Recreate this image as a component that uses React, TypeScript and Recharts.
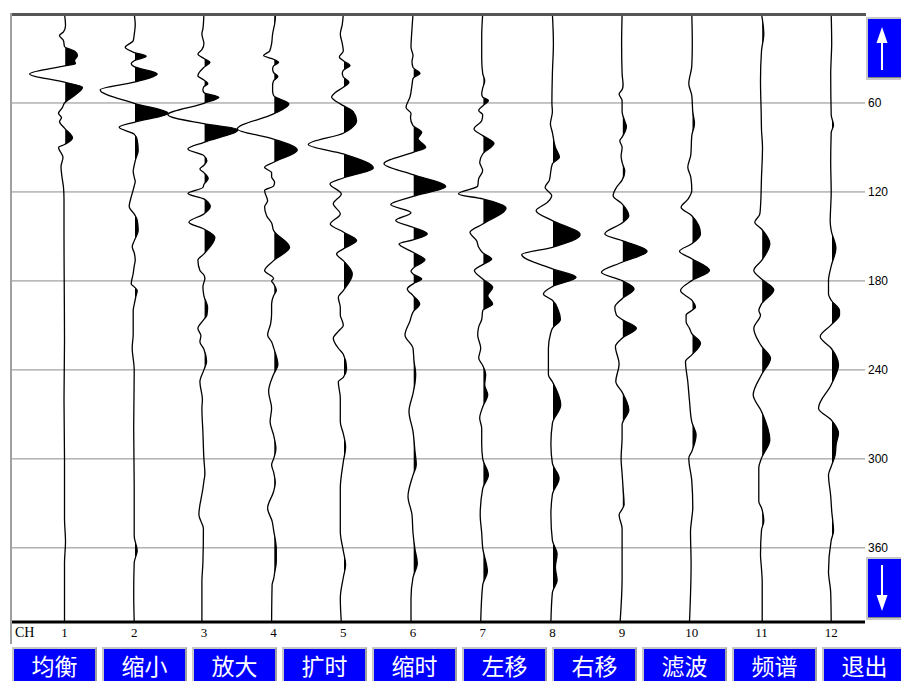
import React from "react";
import { ComposedChart, Line, Area, XAxis, YAxis, CartesianGrid } from "recharts";

const channels = [1, 2, 3, 4, 5, 6, 7, 8, 9, 10, 11, 12];
const timeTicks = [60, 120, 180, 240, 300, 360];
const buttonLabels = ["均衡", "缩小", "放大", "扩时", "缩时", "左移", "右移", "滤波", "频谱", "退出"];

// [time ms, amplitude] per channel, amplitude in 1/70 of the trace spacing
const ch1 = [[0,0],[8,1],[12,-1],[14.5,-5],[18,-1],[22,0],[25,10],[28,13],[31.5,10],[33.5,11],[35,0],[40.4,-35],[46,0],[49.4,18],[55,10],[60,0],[63,-2],[67,-6],[70,-3],[72.5,-5],[77,0],[83.6,8],[88,0],[90,-6],[96.6,-1.5],[103,-3.5],[110,-2.5],[117,-1],[125,-0.5],[150,-0.5],[180,-0.3],[220,0],[260,-0.5],[300,0],[340,0],[356,1],[370,0],[410,0]];
const ch2 = [[0,0],[7,1],[14,0],[18,-1],[22.5,-9],[26,0],[28.5,12],[31.5,0],[33.5,-3],[35.5,0],[40.4,23],[46,0],[51.2,-34],[60.2,0],[67,34],[73,0],[76.4,-15],[81,0],[85,3],[92,4],[99,1],[102,0],[106,-1],[110,0],[113,1],[116,0],[121,-2],[130,-5],[134.8,0],[139,3],[146,4],[153,0],[157,-2],[161,0],[166,1],[170,0],[175,-1],[182,-3],[184,0],[186.5,3],[191,1.5],[196,0],[200,-1],[216,-1],[225,-2],[240,0],[280,-0.5],[320,0],[352,0],[362,3],[370,0],[390,-0.5],[410,0]];
const ch3 = [[0,0],[10,-1],[13.5,-2],[20,0],[24,-2],[27,-6],[30,0],[32.6,6],[36,0],[41.6,-6],[44.5,0],[47,4],[49,0],[51,-1],[53,0],[56.2,15],[60.2,0],[67.9,-36],[74,0],[78,34],[86.5,0],[91,-16],[95.5,0],[99,3],[102,0],[104.5,-4],[107,0],[111,4.3],[115,0],[117,-1],[121,-16],[124.7,0],[130,6.3],[134.8,0],[140.4,-15],[145,0],[150.6,11],[161.8,0],[166,-6],[173,-4],[176,0],[178.6,1],[181,0],[184,-1],[190,0],[198,3.7],[203,3],[206,0],[212,-6],[217,-3],[221,-4],[226,0],[234.4,2.7],[240,0],[248,-4],[260,-1.5],[266,-2],[282,-1],[300,0],[310,1],[315,0],[320,-1],[337.7,-5],[347,-0.5],[370,-1],[383,-2],[410,-2]];
const ch4 = [[0,2],[7,1],[10,0],[13.5,-1],[20,-2],[25,-4],[28,-10],[30.5,0],[32.6,5],[35,0],[37,-1],[39.5,0],[42.2,4.3],[45,0],[48,-1],[52,-1],[55,0],[60.7,15.3],[67.4,0],[77.5,-36.3],[84.3,0],[91.7,23.7],[100,0],[103.4,-9],[107,-2],[110,-2],[112,0],[113.5,1],[116,0],[119,-9],[126,-6],[130,-9],[136,-7],[141,-2],[146,0],[157.3,16],[166.3,0],[173,-9],[178.4,0],[180,-2],[182,0],[186.5,2.7],[190,0],[195.5,-2],[202,-2],[209,-3],[216.4,-6],[221,-2],[225,0],[236.6,4.3],[243,0],[254.6,-5],[265.8,-2],[275,-3.5],[284,0],[293,2.3],[300,0],[304,-2],[309,0],[316,1.7],[322,0],[333.3,-6],[342,-1.5],[348,0],[361,2.7],[369,2.7],[377,1],[381,0],[385,-1.5],[410,-2]];
const ch5 = [[0,0],[7,-1],[13.5,-3],[20,-1],[25,0],[29,-4],[31.5,0],[34.8,6.7],[38,0],[40,-1],[42.5,0],[46,5.7],[49.4,0],[53,-8],[56,-11.7],[59,-7],[61.8,0],[66,10],[72,13.3],[77,8],[80.4,0],[88,-35],[94.4,0],[103.8,30],[110.6,0],[114.6,-13.3],[121.3,-2],[128,-10],[134.8,-3],[141.6,-13],[147,0],[152.8,13.3],[158.4,0],[161.8,-6.7],[166.3,0],[175.3,9],[186.5,0],[191,-5],[198,-3],[203,-3],[207,-1],[210,0],[214,-5],[218.6,-10],[225.4,-5],[229.5,0],[238.9,3.3],[245,0],[248,-5],[259,-3],[275,-3],[283,0],[292,2.3],[302,0],[320,-3],[349,-3],[362,0],[371.4,2.3],[380,0],[394,-3],[410,-2]];
const ch6 = [[0,0],[10,-1],[22.5,-2],[28,0],[32,-1],[36,0],[40,7],[43.5,0],[48,-1],[56,-3],[63,-7],[67,-2],[70,-2.5],[75.3,0],[79.8,8.7],[84,5],[90,12.7],[93.3,0],[101,-29],[108.3,0],[116.4,32.7],[123,0],[128.5,-22.3],[134,-2],[139.3,-17.3],[143.8,0],[148.3,14.3],[152.3,0],[155,-14],[160.7,0],[165.8,12],[171.5,0],[173.5,-2],[175.3,0],[178.7,8.7],[182,0],[185.4,-5.7],[189.9,0],[195.5,6.7],[201,0],[207,-3],[216.4,-8],[225.4,0],[234,1],[243,2.7],[249,2],[256,0],[268,-4],[281.5,0],[295,2],[304,3.3],[311,0],[325.4,-5],[337.7,-1],[350,0],[361,2],[370.3,4.3],[380,0],[394,-2],[410,-2]];
const ch7 = [[0,0],[15,-1],[30,-1],[40,0],[45,2],[50,0],[54,-1],[56,0],[58.4,5.7],[62,0],[65,-4],[68,0],[72,-1],[77.5,-8.7],[82,0],[87.2,11.3],[94.4,0],[100,-3],[105.6,0],[111,-4],[116,-5],[121.3,-24.3],[124.7,0],[130.8,23.3],[141.6,0],[147.2,-12.7],[153,-6],[157.3,-4],[161,0],[165.2,9],[169,0],[173,-8.3],[178.7,0],[184.3,10],[190,5],[195.5,10],[200,0],[206,-1],[211,-4],[216.4,-5],[225.4,-2],[232,-4],[237,0],[243,3],[250,2],[256.8,5],[265,0],[272.6,-3],[279.3,-1],[290,-1],[300,0],[310.8,5.7],[320,0],[337.7,-2.5],[350,-1],[360,0],[376,4.7],[385,0],[410,-2]];
const ch8 = [[0,0],[20,1],[40,0],[60,-0.5],[66,0],[74,-2],[80,0],[90,3],[96.6,7],[101,0],[108,-2],[112,-3],[116.9,-7.3],[122.5,-0.7],[127,-5],[132.6,-16.3],[139.3,0],[148.8,27.7],[157.3,0],[162.2,-30.7],[171.9,0],[177.5,23.7],[183.8,0],[188.8,-9],[193,0],[200,6],[206,8],[212,0],[216,-2],[225.4,-4],[236,-4],[243.3,-4],[248,0],[263.6,8.3],[276,0],[290,-1.5],[303,0],[313,6.7],[324,0],[337.7,-1.5],[355,0],[364,4.7],[373,3],[382,4.7],[390,0],[410,-1.5]];
const ch9 = [[0,0],[20,-0.5],[40,0],[48,1],[51,0],[54,-3],[58.4,0],[66,0],[71,2],[76,4.3],[83,0],[85.4,-2.3],[90,0],[96,-1],[100,0],[106,2.7],[112,0],[117,-5.7],[122.5,-9],[128,0],[136,6.7],[141,0],[148.3,-17.3],[152.8,0],[160,25],[167.4,0],[174.2,-20.7],[179.8,0],[185.4,12],[192,0],[197.8,-7.3],[203,-5.7],[206,0],[211.9,14.3],[218.6,0],[224.2,-6.7],[236,-3],[247.8,-6.3],[255,0],[267,6.7],[277,0],[285,0],[300,-1],[310,0],[320,1],[331,2],[334,0],[337.7,-3],[347,0],[380,0],[410,-2]];
const ch10 = [[0,0],[20,0.5],[35,0],[47,-3],[55,0],[66,1],[74,2.7],[82,0],[95,-1],[103.4,-4],[110,-1],[119,0],[125,-4],[130.3,-10.7],[136,0],[148.3,8.7],[155,0],[160,-12.3],[165,0],[173,17.7],[179.8,0],[186.5,-11.3],[193,0],[197.8,3.7],[200,0],[203,-5.7],[207.5,-5.7],[212,-2.3],[215.5,0],[222,8.7],[229.9,0],[234.4,-6.3],[248,-4],[261,-2.3],[275,0],[283.8,4.3],[295,0],[299.5,-3],[315,0],[333,1],[340,0],[349,-1.3],[371,-0.7],[410,-2.3]];
const ch11 = [[0,0],[13.5,2.3],[25,0],[45,-1],[67,-0.3],[78,0],[90,1],[110,0],[130,-1],[135,-1.7],[140.4,-6.7],[145,0],[155,8.3],[166.3,0],[173,-7.7],[178.7,0],[186,12.3],[195.5,0],[200,-2.7],[203,-1],[212,-7.7],[221,-2.7],[224,0],[232.1,9],[243.3,0],[256.8,-8.3],[268,0],[287.2,8.3],[299.5,0],[306,-2.7],[328.7,-2.7],[333,0],[337.7,1.7],[342,2.3],[348,0],[364.7,-1],[374,0],[383,0.7],[410,0.7]];
const ch12 = [[0,0],[20,0.5],[30,0],[40,-0.5],[68,0],[75,2.3],[80,0],[100,-0.5],[120,0],[140,-1],[146,0],[158,4.7],[170,0],[179.8,-2.7],[188.8,-2.7],[193,0],[200,8.3],[203,8.3],[209.6,0],[217.5,-11],[225.4,0],[236.6,7.3],[250,0],[265.8,-12.7],[273.7,0],[282.7,7.3],[290,5],[297.3,4],[305.1,0],[310.8,-2.7],[325,-0.5],[330,0],[335,0.5],[348.6,2.3],[355,0],[376,-2.7],[390,-0.5],[410,0]];

const traces = [ch1, ch2, ch3, ch4, ch5, ch6, ch7, ch8, ch9, ch10, ch11, ch12];
const GAIN = 1 / 69.7;

// plot geometry (used only to clip each trace's fill to its positive side)
const PLOT_LEFT = 10;
const PLOT_WIDTH = 855;
const X_DOMAIN = [0.218, 12.485];
const chPx = (c: number) => PLOT_LEFT + ((c - X_DOMAIN[0]) / (X_DOMAIN[1] - X_DOMAIN[0])) * PLOT_WIDTH;

const series = traces.map((s, i) =>
  s.map(([t, a]) => ({
    t,
    x: channels[i] + a * GAIN,
    band: [channels[i], channels[i] + a * GAIN],
  }))
);

function ArrowBtn({ top, down }: { top: number; down?: boolean }) {
  return (
    <div
      style={{
        position: "absolute",
        left: 866,
        top,
        width: 40,
        height: 59,
        background: "#0000ff",
        border: "2px solid #c8c8c8",
        boxShadow: "inset -1px -1px 0 #808080",
      }}
    >
      <svg width={36} height={59} style={{ position: "absolute", left: 0, top: 0 }}>
        {down ? (
          <g fill="#fff" stroke="#fff">
            <line x1={14} y1={6} x2={14} y2={40} strokeWidth={2} />
            <polygon points="8.5,36 19.5,36 14,52" stroke="none" />
          </g>
        ) : (
          <g fill="#fff" stroke="#fff">
            <line x1={14} y1={20} x2={14} y2={51} strokeWidth={2} />
            <polygon points="8.5,24 19.5,24 14,8" stroke="none" />
          </g>
        )}
      </svg>
    </div>
  );
}

export default function App() {
  return (
    <div
      style={{
        position: "absolute",
        left: 0,
        top: 0,
        width: 901,
        height: 681,
        overflow: "hidden",
        background: "#fff",
      }}
    >
      <ComposedChart
        width={901}
        height={646}
        layout="vertical"
        margin={{ top: 14, right: 0, bottom: 0, left: 10 }}
      >
        <defs>
          {channels.map((c) => (
            <clipPath key={"cp" + c} id={"pos" + c}>
              <rect x={chPx(c) + 0.7} y={0} width={60} height={700} />
            </clipPath>
          ))}
        </defs>
        <CartesianGrid vertical={false} stroke="#8a8a8a" />
        <XAxis
          type="number"
          domain={X_DOMAIN}
          ticks={channels}
          interval={0}
          allowDataOverflow
          height={24}
          axisLine={{ stroke: "#000", strokeWidth: 3 }}
          tickLine={false}
          tickSize={4}
          tick={{ fill: "#000", fontSize: 13, fontFamily: "Liberation Serif" }}
        />
        <YAxis
          type="number"
          dataKey="t"
          orientation="right"
          domain={[0, 410]}
          ticks={timeTicks}
          interval={0}
          allowDataOverflow
          width={36}
          axisLine={false}
          tickLine={false}
          tickSize={0}
          tickMargin={3}
          tick={{ fill: "#000", fontSize: 12, fontFamily: "Liberation Sans" }}
        />
        {series.map((rows, i) => (
          <Area
            key={"a" + i}
            data={rows}
            dataKey="band"
            type="monotone"
            stroke="none"
            fill="#000"
            fillOpacity={1}
            clipPath={`url(#pos${channels[i]})`}
            style={{ clipPath: `url(#pos${channels[i]})` }}
            isAnimationActive={false}
          />
        ))}
        {series.map((rows, i) => (
          <Line
            key={"l" + i}
            data={rows}
            dataKey="x"
            type="monotone"
            stroke="#000"
            strokeWidth={1.3}
            dot={false}
            isAnimationActive={false}
          />
        ))}
      </ComposedChart>

      {/* frame */}
      <div style={{ position: "absolute", left: 10, top: 13, width: 856, height: 3, background: "#555" }} />
      <div style={{ position: "absolute", left: 10, top: 13, width: 2, height: 631, background: "#a0a0a0" }} />
      <div
        style={{
          position: "absolute",
          left: 15,
          top: 625,
          fontSize: 14,
          fontFamily: "Liberation Serif",
          color: "#000",
        }}
      >
        CH
      </div>

      <ArrowBtn top={17} />
      <ArrowBtn top={557} down />

      {buttonLabels.map((b, i) => (
        <div
          key={b}
          style={{
            position: "absolute",
            left: 12 + i * 90,
            top: 647,
            width: 81,
            height: 40,
            background: "#0000ff",
            border: "2px solid #c8c8c8",
            borderRightColor: "#a0a0a0",
            color: "#fff",
            fontSize: 23,
            fontFamily: "Noto Sans CJK SC",
            textAlign: "center",
            lineHeight: "32px",
          }}
        >
          {b}
        </div>
      ))}
    </div>
  );
}
